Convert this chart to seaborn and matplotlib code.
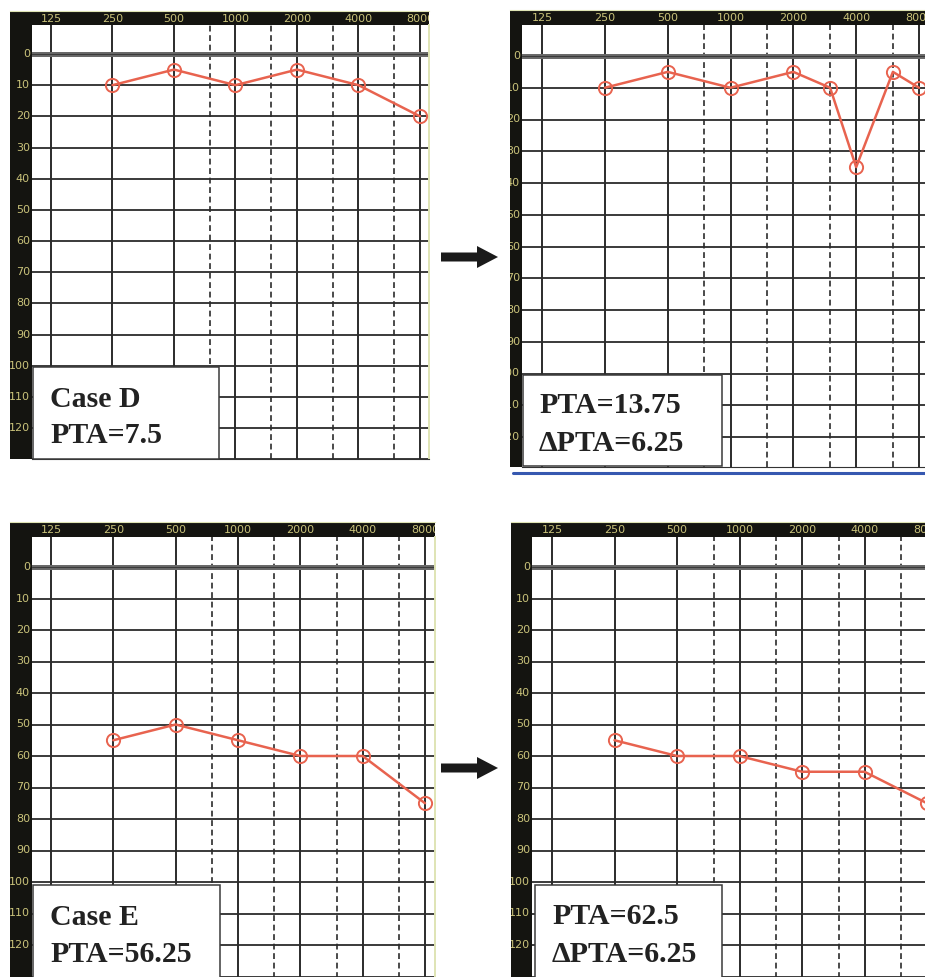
import numpy as np
import matplotlib
matplotlib.use("Agg")
import matplotlib.pyplot as plt
import matplotlib.transforms as mtransforms
from matplotlib.patches import Rectangle, Polygon
from matplotlib.ticker import NullLocator
import seaborn as sns

# audiogram data (Hz, dB HL)
freqs = [250, 500, 1000, 2000, 4000, 8000]
freqs_notch = [250, 500, 1000, 2000, 3000, 4000, 6000, 8000]
case_d_before = [10, 5, 10, 5, 10, 20]
case_d_after = [10, 5, 10, 5, 10, 35, 5, 10]
case_e_before = [55, 50, 55, 60, 60, 75]
case_e_after = [55, 60, 60, 65, 65, 75]

octave_freqs = [125, 250, 500, 1000, 2000, 4000, 8000]
half_octave_freqs = [750, 1500, 3000, 6000]
db_levels = [0, 10, 20, 30, 40, 50, 60, 70, 80, 90, 100, 110, 120]
grid_db = [10, 20, 30, 40, 50, 60, 70, 80, 90, 100, 110, 120, 130]

box_texts = [["Case D", "PTA=7.5"],
             ["PTA=13.75", "\u0394PTA=6.25"],
             ["Case E", "PTA=56.25"],
             ["PTA=62.5", "\u0394PTA=6.25"]]

W, H = 925, 977
LINE_C = "#e8634f"
LABEL_C = "#c9c27a"
GRID_C = "#2b2b2b"

sns.set_style("white")
fig = plt.figure(figsize=(W / 100, H / 100), dpi=100)
fig.patch.set_facecolor("white")


def rect(l, t, r, b):
    return [l / W, 1 - b / H, (r - l) / W, (b - t) / H]


# pixel layout of each audiogram panel
panels = [
    dict(bl=10, pl=32, pr=429, bt=11, pt=25, pb=459, x125=51, x8000=420, y0=54, y120=428),
    dict(bl=510, pl=522, pr=980, bt=10, pt=25, pb=467, x125=542, x8000=919, y0=56, y120=437),
    dict(bl=10, pl=32, pr=435, bt=522, pt=537, pb=1000, x125=51, x8000=425, y0=567, y120=945),
    dict(bl=511, pl=532, pr=980, bt=522, pt=537, pb=1000, x125=552, x8000=927, y0=567, y120=945),
]
series = [(freqs, case_d_before), (freqs_notch, case_d_after),
          (freqs, case_e_before), (freqs, case_e_after)]

for p, (fx_, lv) in zip(panels, series):
    outer = fig.add_axes(rect(p["bl"], p["bt"], p["pr"], p["pb"]))
    outer.set_facecolor("#141410")
    outer.set_xticks([])
    outer.set_yticks([])
    for s in outer.spines.values():
        s.set_visible(False)
    outer.spines["top"].set_visible(True)
    outer.spines["top"].set_color("#dfe4b4")
    outer.set_zorder(0.5)

    ax = fig.add_axes(rect(p["pl"], p["pt"], p["pr"], p["pb"]))
    ax.set_zorder(1)
    ax.set_facecolor("white")
    ax.set_xscale("log", base=2)
    s_oct = (p["x8000"] - p["x125"]) / 6.0
    u125 = np.log2(125)
    ax.set_xlim(2 ** (u125 - (p["x125"] - p["pl"]) / s_oct),
                2 ** (u125 + (p["pr"] - p["x125"]) / s_oct))
    s_db = (p["y120"] - p["y0"]) / 120.0
    ax.set_ylim((p["pb"] - p["y0"]) / s_db, -(p["y0"] - p["pt"]) / s_db)

    for f in octave_freqs:
        ax.axvline(f, color=GRID_C, lw=1.4, zorder=1)
    for f in half_octave_freqs:
        ax.axvline(f, color=GRID_C, lw=1.2, ls=(0, (3.5, 2.2)), zorder=1)
    for d in grid_db:
        ax.axhline(d, color=GRID_C, lw=1.3, zorder=1)
    ax.axhline(0, color="#6a6a6a", lw=3.6, zorder=1)
    ax.axhline(0, color="#3a3a3a", lw=0.8, zorder=1)

    sns.lineplot(x=fx_, y=lv, ax=ax, color=LINE_C, lw=1.8, marker="o",
                 markersize=9.5, markerfacecolor="none", markeredgecolor=LINE_C,
                 markeredgewidth=1.4, zorder=3)

    ax.set_xticks([])
    ax.set_yticks([])
    ax.xaxis.set_minor_locator(NullLocator())
    ax.yaxis.set_minor_locator(NullLocator())
    ax.set_xlabel("")
    ax.set_ylabel("")
    for s in ax.spines.values():
        s.set_visible(False)
    ax.spines["right"].set_visible(True)
    ax.spines["right"].set_color("#dfe4b4")
    ax.spines["right"].set_linewidth(1.4)
    ax.spines["bottom"].set_visible(True)
    ax.spines["bottom"].set_color("#333333")

    # tick labels in the black bands
    tx = mtransforms.blended_transform_factory(ax.transData, outer.transAxes)
    band_y = 1 - ((p["bt"] + p["pt"]) / 2 + 0.5 - p["bt"]) / (p["pb"] - p["bt"])
    for f in octave_freqs:
        outer.text(f, band_y, str(f), transform=tx, ha="center", va="center",
                   color=LABEL_C, fontsize=8, clip_on=True)
    ty = mtransforms.blended_transform_factory(outer.transAxes, ax.transData)
    lab_x = (p["pl"] - 2 - p["bl"]) / (p["pr"] - p["bl"])
    for d in db_levels:
        outer.text(lab_x, d, str(d), transform=ty, ha="right", va="center",
                   color=LABEL_C, fontsize=8, clip_on=True)

# text boxes
boxes = [dict(l=33, t=367, r=219, b=459, x=50, y1=407, y2=443),
         dict(l=523, t=375, r=722, b=466, x=539, y1=413, y2=451),
         dict(l=33, t=885, r=220, b=990, x=50, y1=925, y2=962),
         dict(l=535, t=885, r=722, b=990, x=552, y1=924, y2=962)]
for bx, lines in zip(boxes, box_texts):
    r = rect(bx["l"], bx["t"], bx["r"], bx["b"])
    fig.add_artist(Rectangle((r[0], r[1]), r[2], r[3], transform=fig.transFigure,
                             facecolor="white", edgecolor="#3a3a3a", lw=1.1, zorder=3))
    for txt, yb in zip(lines, [bx["y1"], bx["y2"]]):
        fig.text(bx["x"] / W, 1 - yb / H, txt, family="Liberation Serif",
                 fontweight="bold", fontsize=21.5, color="#222222",
                 va="baseline", ha="left", zorder=4)

# arrows between panels
for yc in [257, 768]:
    pts = [(441, yc - 4.5), (477, yc - 4.5), (477, yc - 11), (498, yc),
           (477, yc + 11), (477, yc + 4.5), (441, yc + 4.5)]
    fig.add_artist(Polygon([(x / W, 1 - y / H) for x, y in pts], closed=True,
                           transform=fig.transFigure, facecolor="#1a1a1a",
                           edgecolor="none", zorder=3))

# blue rule under the top-right panel
fig.add_artist(plt.Line2D([513 / W, 1], [1 - 473 / H, 1 - 473 / H],
                          transform=fig.transFigure, color="#3658b0", lw=2.2, zorder=3))

fig.savefig("out.png", dpi=100)
